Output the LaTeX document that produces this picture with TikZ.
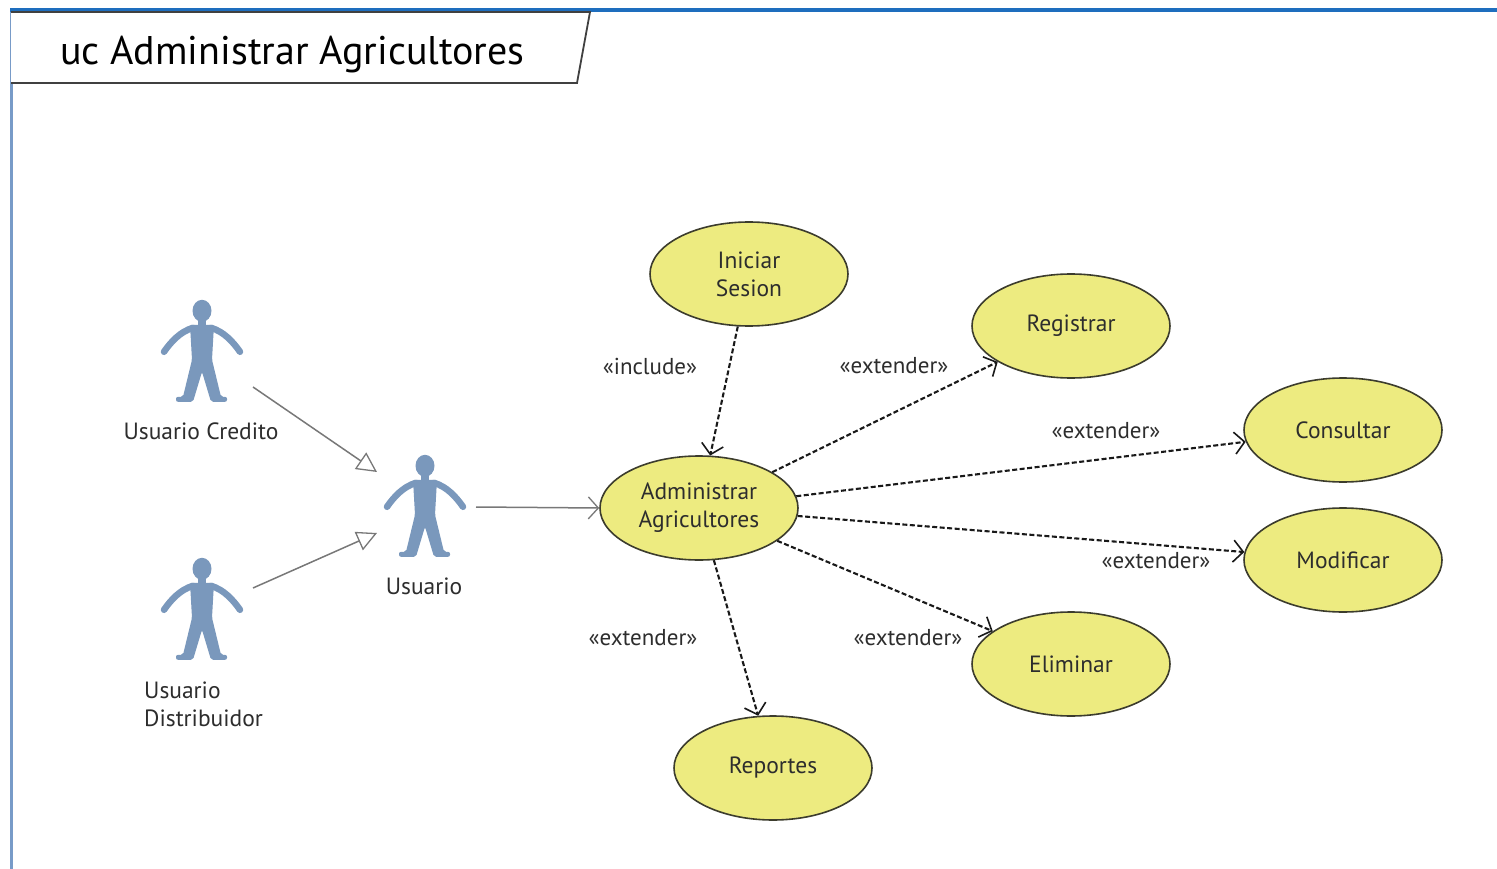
\documentclass[tikz,border=0pt]{standalone}
\usepackage{fontspec}
\setmainfont{PT Sans}
\usetikzlibrary{arrows.meta,shapes.geometric}
\definecolor{uyel}{RGB}{237,235,128}
\definecolor{uedge}{RGB}{60,60,45}
\definecolor{actc}{RGB}{122,152,188}
\definecolor{fblue}{RGB}{30,110,190}
\definecolor{fleft}{RGB}{120,155,200}
\definecolor{txt}{RGB}{45,45,45}
\definecolor{gline}{RGB}{120,120,120}
\tikzset{
  uc/.style={ellipse, draw=uedge, line width=1.6pt, fill=uyel, minimum width=198pt, minimum height=104pt, inner sep=0pt, align=center, text=txt, font=\fontsize{23.5}{28}\selectfont},
  actorbox/.style={rectangle, minimum width=80pt, minimum height=104pt, inner sep=0pt},
  alabel/.style={text=txt, font=\fontsize{23.5}{28}\selectfont, inner sep=0pt},
  stereo/.style={text=txt, font=\fontsize{23}{26}\selectfont, inner sep=0pt},
  dep/.style={draw=black!90, line width=2.1pt, dash pattern=on 5pt off 2.5pt, -{Straight Barb[length=10pt,width=22pt,line width=1.6pt]}},
  assoc/.style={draw=gline, line width=1.5pt, -{Straight Barb[length=10pt,width=22pt,line width=1.3pt]}},
  gen/.style={draw=gline, line width=1.5pt, -{Triangle[open,length=20pt,width=20pt,line width=1.3pt,fill=white]}},
  actor/.pic={
    \fill[actc] (0,11) ellipse (9.5pt and 11pt);
    \fill[actc] (-4,18) rectangle (4,29);
    \draw[actc, line width=6.5pt, line cap=round, line join=round]
      (-9,28) .. controls (-22,32) and (-31,42) .. (-38,52);
    \draw[actc, line width=6.5pt, line cap=round, line join=round]
      (9,28) .. controls (22,32) and (31,42) .. (38,52);
    \fill[actc, rounded corners=2pt] (-12,25) -- (12,25) -- (10,60) -- (19,97) -- (25,97) -- (25,102) -- (9,102) -- (0,72) -- (-9,102) -- (-26,102) -- (-26,97) -- (-19,97) -- (-10,60) -- cycle;
  }
}
\begin{document}
\begin{tikzpicture}[x=1pt,y=-1pt]
\useasboundingbox (0,0) rectangle (1497,869);
\fill[white] (0,0) rectangle (1497,869);
% frame
\draw[fleft, line width=3pt] (11,10) -- (11,869);
\draw[fblue, line width=3.5pt] (10,10) -- (1497,10);
% header tab
\draw[black!75, line width=1.8pt, fill=white] (11,12) -- (590,12) -- (577,83) -- (11,83);
\node[anchor=base west, inner sep=0pt, font=\fontsize{40}{48}\selectfont] (title) at (60,65) {uc Administrar Agricultores};

% use cases
\node[uc] (ini) at (749,274) {Iniciar\\Sesion};
\node[uc] (adm) at (699,508) {Administrar\\Agricultores};
\node[uc] (reg) at (1071,326) {Registrar};
\node[uc] (con) at (1343,430) {Consultar};
\node[uc] (mod) at (1343,560) {Modificar};
\node[uc] (eli) at (1071,664) {Eliminar};
\node[uc] (rep) at (773,768) {Reportes};

% actors
\node[actorbox] (ucr) at (202,352) {};
\pic at (ucr.north) {actor};
\node[alabel, anchor=north] (ucrl) at (201,423) {Usuario Credito};
\node[actorbox] (usu) at (425,507) {};
\pic at (usu.north) {actor};
\node[alabel, anchor=north] (usul) at (424,578) {Usuario};
\node[actorbox] (udi) at (202,610) {};
\pic at (udi.north) {actor};
\node[alabel, anchor=north west, align=left] (udil) at (144,682) {Usuario\\Distribuidor};

% actor connectors
\coordinate (ucrA) at (253,387);
\coordinate (usuA) at (377,472);
\coordinate (udiA) at (253,588);
\coordinate (usuB) at (377,533);
\coordinate (usuC) at (476,507);
\draw[gen] (ucrA) -- (usuA);
\draw[gen] (udiA) -- (usuB);
\draw[assoc] (usuC) -- (adm.west);

% dependencies
\draw[dep] (ini) -- (adm);
\draw[dep] (adm) -- (reg);
\draw[dep] (adm) -- (con);
\draw[dep] (adm) -- (mod);
\draw[dep] (adm) -- (eli);
\draw[dep] (adm) -- (rep);

% stereotypes
\node[stereo] (s1) at (650,366) {«include»};
\node[stereo] (s2) at (894,366) {«extender»};
\node[stereo] (s3) at (1106,431) {«extender»};
\node[stereo] (s4) at (1156,561) {«extender»};
\node[stereo] (s5) at (908,638) {«extender»};
\node[stereo] (s6) at (643,638) {«extender»};
\end{tikzpicture}
\end{document}
